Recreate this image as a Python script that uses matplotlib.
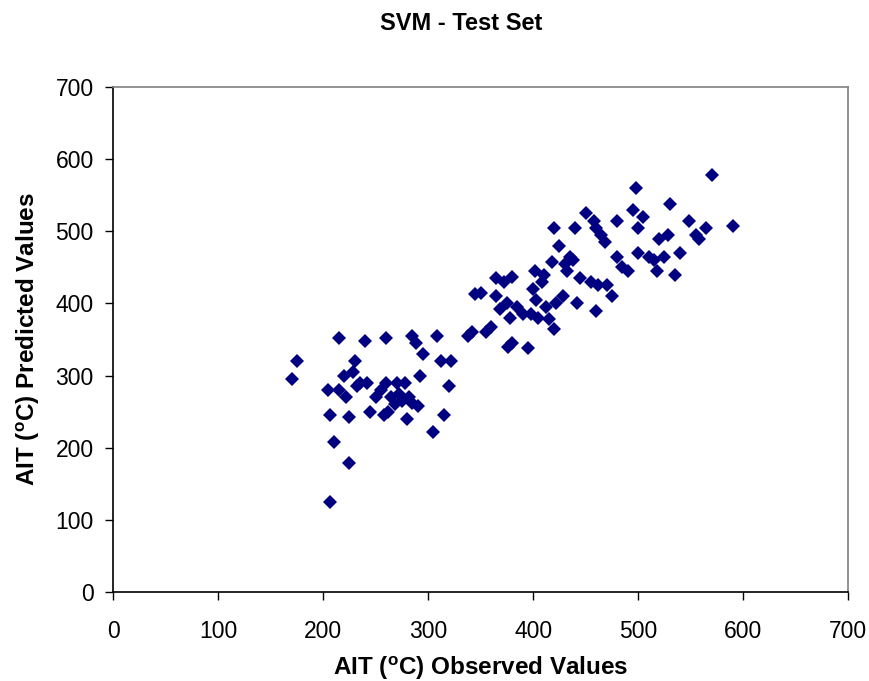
import numpy as np
import matplotlib
matplotlib.use("Agg")
import matplotlib.pyplot as plt

# observed vs predicted AIT (deg C)
observed = [170, 175, 205, 207, 210, 207, 215, 215, 220, 222, 225, 225, 228, 230,
            232, 235, 240, 242, 245, 250, 255, 258, 260, 260, 262, 265, 268, 270,
            272, 275, 278, 280, 282, 285, 285, 288, 290, 292, 295, 305, 308, 312,
            315, 320, 322, 338, 342, 345, 350, 355, 360, 365, 365, 368, 372, 375,
            376, 378, 380, 380, 385, 390, 395, 398, 400, 402, 403, 405, 408, 410,
            412, 415, 418, 420, 420, 422, 425, 428, 430, 432, 435, 438, 440, 442,
            445, 450, 455, 458, 460, 460, 462, 465, 468, 470, 475, 480, 480, 485,
            490, 495, 498, 500, 500, 505, 510, 515, 518, 520, 525, 528, 530, 535,
            540, 548, 555, 558, 565, 570, 590]
predicted = [295, 320, 280, 245, 208, 125, 352, 280, 300, 270, 243, 178, 305, 320,
             285, 290, 348, 290, 250, 270, 280, 245, 352, 290, 250, 270, 260, 290,
             275, 265, 290, 240, 270, 355, 262, 345, 258, 300, 330, 222, 355, 320,
             245, 285, 320, 355, 360, 413, 415, 360, 368, 435, 410, 392, 430, 400,
             340, 380, 437, 345, 395, 385, 338, 385, 420, 445, 405, 380, 430, 440,
             395, 378, 458, 505, 365, 400, 480, 410, 455, 445, 465, 460, 505, 400,
             435, 525, 430, 515, 505, 390, 425, 495, 485, 425, 410, 465, 515, 450,
             445, 530, 560, 505, 470, 520, 465, 460, 445, 490, 465, 495, 538, 440,
             470, 515, 495, 490, 505, 578, 508]

ticks = [0, 100, 200, 300, 400, 500, 600, 700]

plt.rcParams['font.family'] = ['Liberation Sans', 'DejaVu Sans']
plt.rcParams['mathtext.fontset'] = 'custom'
plt.rcParams['mathtext.rm'] = 'Liberation Sans:bold'

fig = plt.figure(figsize=(8.7, 6.81), dpi=100)
ax = fig.add_axes([0.130, 0.131, 0.845, 0.741])

ax.plot(observed, predicted, 'D', color='#000080', markersize=7.5,
        markeredgewidth=0, linestyle='none')

ax.set_xlim(0, 700)
ax.set_ylim(0, 700)
ax.set_xticks(ticks)
ax.set_yticks(ticks)
ax.tick_params(direction='out', length=6, width=1, labelsize=16.5, pad=14)
ax.tick_params(axis='y', pad=8)

for s in ['left', 'bottom']:
    ax.spines[s].set_color('black')
    ax.spines[s].set_linewidth(1.2)
for s in ['top', 'right']:
    ax.spines[s].set_color('#808080')
    ax.spines[s].set_linewidth(1.2)

ax.set_xlabel('AIT ($^{\\rm o}$C) Observed Values', fontsize=17.5, fontweight='bold', labelpad=8)
ax.set_ylabel('AIT ($^{\\rm o}$C) Predicted Values', fontsize=17.5, fontweight='bold', labelpad=10)
fig.text(0.53, 0.966, 'SVM - Test Set', ha='center', va='center', fontsize=17, fontweight='bold')

fig.savefig('out.png', dpi=100)
